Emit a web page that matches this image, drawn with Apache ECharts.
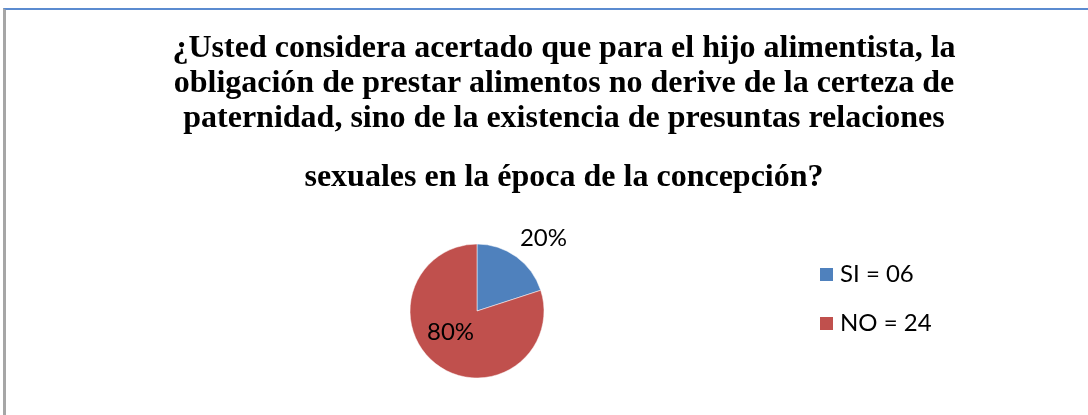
<!DOCTYPE html>
<html>
<head>
<meta charset="utf-8">
<script src="https://cdn.jsdelivr.net/npm/echarts@6/dist/echarts.min.js"></script>
<style>
  html, body { margin: 0; padding: 0; background: #fff; }
  #chart { position: absolute; left: 0; top: 0; width: 1088px; height: 415px; }
  /* marco del gráfico (borde superior azul, izquierdo gris) */
  #frame {
    position: absolute; left: 3px; top: 8px; width: 1085px; height: 407px;
    box-sizing: border-box; border-left: 3px solid #a6a6a6; border-top: 2px solid #5b8bd0;
    pointer-events: none;
  }
</style>
</head>
<body>
<div id="chart"></div>
<div id="frame"></div>
<script>
// datos de la encuesta
const categorias = ['SI = 06', 'NO = 24'];
const valores = [6, 24];
const colores = ['#4f81bd', '#c0504d'];

const tituloLineas = [
  '¿Usted considera acertado que para el hijo alimentista, la',
  'obligación de prestar alimentos no derive de la certeza de',
  'paternidad, sino de la existencia de presuntas relaciones'
];
const tituloFinal = 'sexuales en la época de la concepción?';

const chart = echarts.init(document.getElementById('chart'));

const tituloStyle = {
  fontFamily: 'Liberation Serif',
  fontWeight: 'bold',
  fontSize: 32,
  lineHeight: 35,
  color: '#000'
};

const option = {
  animation: false,
  title: [
    {
      text: tituloLineas.join('\n'),
      left: 564,
      top: 31,
      padding: 0,
      textAlign: 'center',
      textStyle: tituloStyle
    },
    {
      text: tituloFinal,
      left: 564,
      top: 160,
      padding: 0,
      textAlign: 'center',
      textStyle: tituloStyle
    }
  ],
  legend: {
    orient: 'vertical',
    left: 818,
    top: 262,
    padding: 0,
    itemWidth: 15,
    itemHeight: 15,
    itemGap: 24,
    icon: 'rect',
    textStyle: {
      fontFamily: 'Lato',
      fontSize: 24,
      lineHeight: 25,
      color: '#000',
      padding: [0, 0, 0, 1]
    },
    data: categorias
  },
  series: [
    {
      type: 'pie',
      center: [477, 311],
      radius: 67,
      startAngle: 90,
      clockwise: true,
      avoidLabelOverlap: false,
      itemStyle: { borderColor: '#fff', borderWidth: 0.5 },
      emphasis: { disabled: true },
      label: {
        fontFamily: 'Lato',
        fontSize: 24,
        color: '#000',
        formatter: '{d}%'
      },
      labelLine: { show: false },
      labelLayout: function (p) {
        return p.dataIndex === 1 ? { dx: -5, dy: -8 } : {};
      },
      data: categorias.map(function (c, i) {
        const item = { name: c, value: valores[i], itemStyle: { color: colores[i] } };
        if (i === 0) {
          item.label = { position: 'outside', distanceToLabelLine: -10 };
          item.labelLine = { show: false, length: 23, length2: 0 };
        } else {
          item.label = { position: 'inside' };
        }
        return item;
      })
    }
  ]
};

chart.setOption(option);
</script>
</body>
</html>
